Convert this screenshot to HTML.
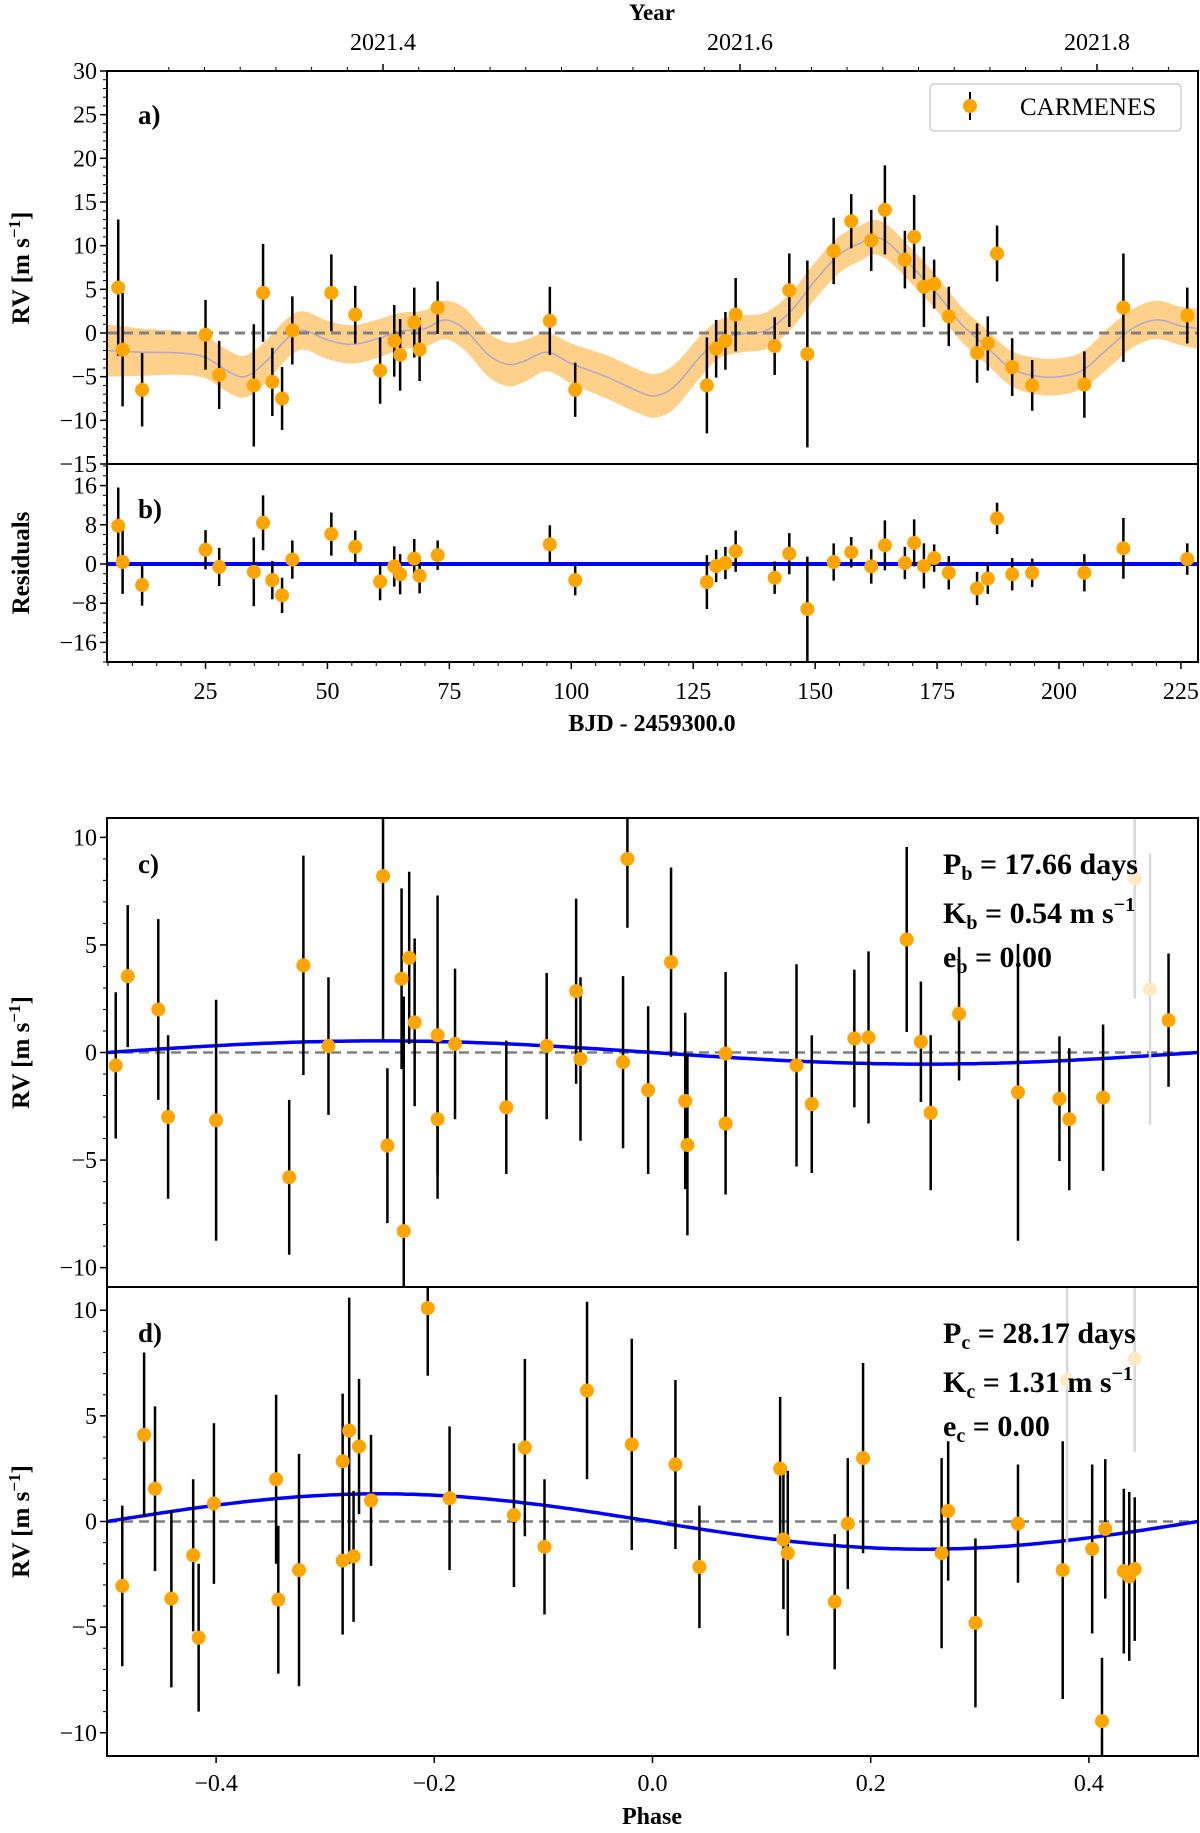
<!DOCTYPE html>
<html><head><meta charset="utf-8"><style>
html,body{margin:0;padding:0;background:#fff;}
svg text{font-family:"Liberation Serif",serif;}
</style></head><body>
<svg id="fig" width="1200" height="1828" viewBox="0 0 1200 1828" xmlns="http://www.w3.org/2000/svg"></svg>
<script>
// ---- Panel a/b data (days since 2459300, RV, error, residual) ----
const rvDays = [7.1,8,12,25,27.8,34.9,36.8,38.7,40.7,42.8,50.8,55.7,60.8,63.7,64.9,67.8,68.9,72.6,95.6,100.8,127.8,129.7,131.6,133.7,141.7,144.7,148.4,153.8,157.4,161.5,164.3,168.4,170.3,172.3,174.4,177.4,183.2,185.4,187.3,190.4,194.5,205.2,213.2,226.3];
const rvValues = [5.2,-1.9,-6.5,-0.2,-4.8,-6,4.6,-5.6,-7.5,0.3,4.6,2.1,-4.3,-0.9,-2.5,1.2,-1.9,2.9,1.4,-6.5,-6,-1.8,-0.9,2.1,-1.5,4.9,-2.4,9.4,12.8,10.6,14.1,8.4,11,5.3,5.6,1.9,-2.3,-1.2,9.1,-3.9,-6,-5.9,2.9,2];
const rvErrors = [7.8,6.5,4.2,4,3.9,7,5.6,3.9,3.6,3.9,4.4,3.3,3.8,4.1,4.1,4,3.6,3,3.9,3.1,5.5,3.3,3.3,4.2,3.3,4.2,10.7,3.8,3.1,3.5,5.1,3.3,4.8,4.6,2.8,3.4,3.4,3.1,3.2,3.3,2.9,3.8,6.2,3.2];
const residValues = [7.8,0.4,-4.3,2.9,-0.6,-1.6,8.4,-3.3,-6.4,0.9,6.1,3.5,-3.6,-0.5,-2.1,1.1,-2.4,1.8,4,-3.3,-3.7,-0.4,0.2,2.6,-2.8,2.1,-9.2,0.4,2.4,-0.5,3.8,0.2,4.3,-0.4,1.2,-1.8,-5,-3,9.3,-2.1,-1.8,-1.8,3.2,1];
// GP model knots
const gpDays = [4.8,12,20,25,30,33,37,42,45,50,55,60,65,70,74,78,83,87,90,95,100,108,113,117,121,126,130,135,140,145,150,155,160,162,165,170,175,180,185,190,195,200,205,210,215,220,225,228.5];
const gpMean = [-2.0,-2.2,-2.3,-2.8,-4.5,-5.0,-3.5,-0.5,0.3,-0.8,-1.3,-0.7,0.2,0.5,1.5,0.5,-2.5,-3.6,-3.3,-2.2,-3.5,-5.2,-6.5,-7.2,-6.2,-3.0,-0.8,-0.1,0.3,2.5,6.0,9.0,10.5,11.0,10.3,7.5,4.5,1.0,-1.5,-4.0,-4.9,-5.0,-4.2,-1.8,0.5,1.5,0.8,0.5];
const gpHalf = [3.0,2.7,2.5,2.4,2.4,2.4,2.4,2.3,2.2,2.2,2.2,2.2,2.1,2.1,2.2,2.4,2.5,2.5,2.4,2.2,2.3,2.5,2.5,2.5,2.5,2.4,2.2,2.1,2.1,2.1,2.1,2.1,2.0,2.0,2.0,2.0,2.0,2.0,2.0,2.0,2.1,2.1,2.1,2.3,2.2,2.2,2.2,2.3];
const yearTicks = [2021.4,2021.6,2021.8];
const yearTickLabels = ["2021.4","2021.6","2021.8"];
const dayTicks = [25,50,75,100,125,150,175,200,225];
const rvTicksA = [-15,-10,-5,0,5,10,15,20,25,30];
const residTicks = [-16,-8,0,8,16];
// ---- Panel c (planet b) ----
const phaseB = [-0.492,-0.481,-0.453,-0.444,-0.400,-0.333,-0.320,-0.297,-0.247,-0.243,-0.230,-0.228,-0.223,-0.218,-0.197,-0.197,-0.181,-0.134,-0.097,-0.070,-0.066,-0.027,-0.023,-0.004,0.017,0.030,0.032,0.067,0.067,0.132,0.146,0.185,0.198,0.233,0.246,0.255,0.281,0.335,0.373,0.382,0.413,0.442,0.456,0.473];
const rvB = [-0.6,3.55,2.0,-3.0,-3.15,-5.8,4.05,0.3,8.2,-4.33,3.43,-8.3,4.4,1.4,0.8,-3.1,0.4,-2.55,0.3,2.85,-0.3,-0.45,9.0,-1.75,4.2,-2.25,-4.3,-0.05,-3.3,-0.6,-2.4,0.65,0.7,5.25,0.5,-2.8,1.8,-1.85,-2.15,-3.1,-2.1,8.1,2.95,1.5];
const errB = [3.4,3.3,4.2,3.8,5.6,3.6,5.1,3.2,7.6,3.6,4.2,10.9,4.0,3.9,6.5,3.7,3.5,3.1,3.4,4.3,3.8,4.0,3.2,3.9,4.4,4.1,4.2,3.8,3.3,4.7,3.2,3.2,4.0,4.3,2.8,3.6,3.1,6.9,2.9,3.3,3.4,5.6,6.3,3.1];
const paleB = [0,0,0,0,0,0,0,0,0,0,0,0,0,0,0,0,0,0,0,0,0,0,0,0,0,0,0,0,0,0,0,0,0,0,0,0,0,0,0,0,0,1,1,0];
const Kb = 0.54;
// ---- Panel d (planet c) ----
const phaseC = [-0.486,-0.466,-0.456,-0.441,-0.421,-0.416,-0.402,-0.345,-0.343,-0.324,-0.284,-0.284,-0.278,-0.274,-0.269,-0.258,-0.206,-0.186,-0.127,-0.117,-0.099,-0.060,-0.019,0.021,0.043,0.117,0.120,0.124,0.167,0.179,0.193,0.265,0.271,0.296,0.335,0.376,0.380,0.403,0.412,0.415,0.432,0.437,0.442,0.442];
const rvC = [-3.05,4.1,1.55,-3.65,-1.6,-5.5,0.85,2.0,-3.7,-2.3,2.85,-1.85,4.3,-1.65,3.55,1.0,10.1,1.1,0.3,3.5,-1.2,6.2,3.65,2.7,-2.15,2.5,-0.85,-1.5,-3.8,-0.1,3.0,-1.5,0.5,-4.8,-0.1,-2.3,6.7,-1.3,-9.45,-0.35,-2.35,-2.6,-2.25,7.7];
const errC = [3.8,3.9,3.9,4.2,3.6,3.5,3.8,4.0,3.5,5.5,3.2,3.5,6.3,3.1,3.2,3.1,3.2,3.4,3.4,4.2,3.2,4.2,5.0,4.0,2.9,3.4,3.3,3.9,3.2,3.1,4.5,4.5,3.3,4.0,2.8,6.1,7.8,4.0,3.0,3.3,3.9,4.0,3.4,4.4];
const paleC = [0,0,0,0,0,0,0,0,0,0,0,0,0,0,0,0,0,0,0,0,0,0,0,0,0,0,0,0,0,0,0,0,0,0,0,0,1,0,0,0,0,0,0,1];
const Kc = 1.31;
const phaseTicks = [-0.4,-0.2,0.0,0.2,0.4];
const phaseTickLabels = ["\u22120.4","\u22120.2","0.0","0.2","0.4"];
const rvTicksCD = [-10,-5,0,5,10];

const NS = "http://www.w3.org/2000/svg";
const svg = document.getElementById('fig');
function el(tag, attrs, parent, text){
  const e = document.createElementNS(NS, tag);
  for (const k in attrs) e.setAttribute(k, attrs[k]);
  if (text !== undefined) e.textContent = text;
  (parent || svg).appendChild(e);
  return e;
}
function lin(d0,d1,r0,r1){ return v => r0 + (v-d0)*(r1-r0)/(d1-d0); }
function fmt(v){ return (v<0?"\u2212":"") + Math.abs(v); }
// Catmull-Rom interpolation through knots
function smooth(xs, ys, x){
  let i = 0; while (i < xs.length-2 && x > xs[i+1]) i++;
  const x0 = xs[Math.max(i-1,0)], x1 = xs[i], x2 = xs[i+1], x3 = xs[Math.min(i+2,xs.length-1)];
  const y0 = ys[Math.max(i-1,0)], y1 = ys[i], y2 = ys[i+1], y3 = ys[Math.min(i+2,ys.length-1)];
  const h = x2 - x1, t = (x - x1)/h;
  const m1 = (y2 - y0)/(x2 - x0) * h, m2 = (y3 - y1)/(x3 - x1) * h;
  const t2 = t*t, t3 = t2*t;
  return (2*t3-3*t2+1)*y1 + (t3-2*t2+t)*m1 + (-2*t3+3*t2)*y2 + (t3-t2)*m2;
}

const L = 107, R = 1198;
const xDay = lin(4.8, 228.5, L, R);
const xYear = lin(2021.4, 2021.6, 383, 740);
const yA = lin(-15, 30, 464, 71);
const yB = lin(-20, 20.4, 662, 464);
const xPh = lin(-0.5, 0.5, L, R);
const yC = lin(-10.9, 10.9, 1287, 818);
const yD = lin(-11.1, 11.1, 1756, 1287);
const TF = 24;

function clip(id, y0, y1){
  const cp = el('clipPath', {id:id});
  el('rect', {x:L, y:y0, width:R-L, height:y1-y0}, cp);
}
clip('ca', 71, 464); clip('cb', 464, 662); clip('cc', 818, 1287); clip('cd', 1287, 1756);

function yAxis(g, ticks, y, labels, minorStep, lo, hi){
  ticks.forEach((t,i)=>{
    const tk = el('line', {x1:L-7, x2:L, y1:y(t), y2:y(t), stroke:'#000', 'stroke-width':1.5}, g);
    
    
    const tl = el('text', {x:L-10, y:y(t)+8, 'text-anchor':'end', 'font-size':TF}, g, labels ? labels[i] : fmt(t));
    
    
  });
  if (minorStep){
    for (let v = lo; v <= hi+1e-9; v += minorStep){
      el('line', {x1:L-4, x2:L, y1:y(v), y2:y(v), stroke:'#000', 'stroke-width':1}, g);
    }
  }
}
function dots(g, xs, ys, errs, xf, yf, pale){
  xs.forEach((xv,i)=>{
    const p = pale && pale[i];
    const b = el('line', {x1:xf(xv), x2:xf(xv), y1:yf(ys[i]-errs[i]), y2:yf(ys[i]+errs[i]), stroke: p ? '#d8d8d8' : '#000', 'stroke-width':2.5}, g);
    
    
  });
  xs.forEach((xv,i)=>{
    const p = pale && pale[i];
    const c = el('circle', {cx:xf(xv), cy:yf(ys[i]), r:7, fill: p ? '#fde9c4' : '#ffa500'}, g);
    
    
  });
}

// ===== Panel a =====
const gA = el('g', { });
const gAc = el('g', {'clip-path':'url(#ca)'}, gA);
let up = '', dn = '', mid = '';
const N = 400, d0 = gpDays[0], d1 = gpDays[gpDays.length-1];
const samp = [];
for (let i = 0; i <= N; i++){ const d = d0 + (d1-d0)*i/N; samp.push([d, smooth(gpDays,gpMean,d), smooth(gpDays,gpHalf,d)]); }
samp.forEach((s,i)=>{
  up += (i?'L':'M') + xDay(s[0]).toFixed(1) + ',' + yA(s[1]+s[2]).toFixed(1);
  mid += (i?'L':'M') + xDay(s[0]).toFixed(1) + ',' + yA(s[1]).toFixed(1);
});
for (let i = samp.length-1; i >= 0; i--) dn += 'L' + xDay(samp[i][0]).toFixed(1) + ',' + yA(samp[i][1]-samp[i][2]).toFixed(1);
el('path', {d: up + dn + 'Z', fill:'#ffd08a', stroke:'none',  }, gAc);
el('path', {d: mid, fill:'none', stroke:'#b0a8c8', 'stroke-width':1.5,  }, gAc);
el('line', {x1:L, x2:R, y1:yA(0), y2:yA(0), stroke:'#808080', 'stroke-width':3, 'stroke-dasharray':'10,6',  }, gAc);
dots(gAc, rvDays, rvValues, rvErrors, xDay, yA);
el('rect', {x:L, y:71, width:R-L, height:393, fill:'none', stroke:'#000', 'stroke-width':2,  }, gA);
yAxis(gA, rvTicksA, yA, null, 1, -15, 30);
yearTicks.forEach((t,i)=>{
  el('line', {x1:xYear(t), x2:xYear(t), y1:64, y2:71, stroke:'#000', 'stroke-width':1.5}, gA);
  const tl = el('text', {x:xYear(t), y:50, 'text-anchor':'middle', 'font-size':TF}, gA, yearTickLabels[i]);
  
  
});
for (let v = 2021.28; v <= 2021.86; v += 0.02){
  const x = xYear(v); if (x > L && x < R) el('line', {x1:x, x2:x, y1:67, y2:71, stroke:'#000', 'stroke-width':1}, gA);
}
el('text', {x:652, y:20, 'text-anchor':'middle', 'font-size':23, 'font-weight':'bold',  }, gA, 'Year');
el('text', {x:138, y:124, 'font-size':27, 'font-weight':'bold',  }, gA, 'a)');
const lg = el('g', { }, gA);
el('rect', {x:930, y:84, width:251, height:47, rx:4, fill:'#fff', stroke:'#d0d0d0', 'stroke-width':1.5}, lg);
el('line', {x1:970, x2:970, y1:92, y2:120, stroke:'#000', 'stroke-width':2}, lg);
el('circle', {cx:970, cy:106, r:7, fill:'#ffa500'}, lg);
el('text', {x:1020, y:115, 'font-size':25,  }, lg, 'CARMENES');
el('text', {x:0, y:0, transform:'translate(29,268) rotate(-90)', 'text-anchor':'middle', 'font-size':25, 'font-weight':'bold',  }, gA).innerHTML = 'RV [m s<tspan dy="-9" font-size="17">\u22121</tspan><tspan dy="9">]</tspan>';

// ===== Panel b =====
const gB = el('g', { });
const gBc = el('g', {'clip-path':'url(#cb)'}, gB);
el('line', {x1:L, x2:R, y1:yB(0), y2:yB(0), stroke:'#0000ff', 'stroke-width':4,  }, gBc);
dots(gBc, rvDays, residValues, rvErrors, xDay, yB);
el('rect', {x:L, y:464, width:R-L, height:198, fill:'none', stroke:'#000', 'stroke-width':2,  }, gB);
yAxis(gB, residTicks, yB, null, 2, -20, 20);
dayTicks.forEach(t=>{
  el('line', {x1:xDay(t), x2:xDay(t), y1:662, y2:669, stroke:'#000', 'stroke-width':1.5}, gB);
  const tl = el('text', {x:xDay(t), y:699, 'text-anchor':'middle', 'font-size':TF}, gB, String(t));
  
  
});
for (let v = 5; v <= 228; v += 5) el('line', {x1:xDay(v), x2:xDay(v), y1:662, y2:666, stroke:'#000', 'stroke-width':1}, gB);
el('text', {x:652, y:731, 'text-anchor':'middle', 'font-size':24, 'font-weight':'bold',  }, gB, 'BJD - 2459300.0');
el('text', {x:138, y:518, 'font-size':27, 'font-weight':'bold',  }, gB, 'b)');
el('text', {x:0, y:0, transform:'translate(29,563) rotate(-90)', 'text-anchor':'middle', 'font-size':25, 'font-weight':'bold',  }, gB, 'Residuals');

// ===== Phase panels =====
function phasePanel(name, clipId, yf, y0, y1, ph, rv, er, pale, K, label, sub, P){
  const g = el('g', { });
  const gc = el('g', {'clip-path':'url(#'+clipId+')'}, g);
  el('line', {x1:L, x2:R, y1:yf(0), y2:yf(0), stroke:'#808080', 'stroke-width':2.5, 'stroke-dasharray':'10,6'}, gc);
  let d = '';
  for (let i = 0; i <= 200; i++){ const p = -0.5 + i/200; d += (i?'L':'M') + xPh(p).toFixed(1) + ',' + yf(-K*Math.sin(2*Math.PI*p)).toFixed(1); }
  const c = el('path', {d:d, fill:'none', stroke:'#0000ff', 'stroke-width':3.5}, gc);
  
  
  dots(gc, ph, rv, er, xPh, yf, pale);
  el('rect', {x:L, y:y0, width:R-L, height:y1-y0, fill:'none', stroke:'#000', 'stroke-width':2}, g);
  yAxis(g, rvTicksCD, yf, null, 1, -10, 10);
  el('text', {x:0, y:0, transform:'translate(29,'+yf(0)+') rotate(-90)', 'text-anchor':'middle', 'font-size':25, 'font-weight':'bold',  }, g).innerHTML = 'RV [m s<tspan dy="-9" font-size="17">\u22121</tspan><tspan dy="9">]</tspan>';
  el('text', {x:138, y:y0+55, 'font-size':27, 'font-weight':'bold',  }, g, label);
  const a = el('g', { }, g);
  el('text', {x:943, y:y0+56, 'font-size':30, 'font-weight':'bold'}, a).innerHTML = 'P<tspan dy="6" font-size="20">'+sub+'</tspan><tspan dy="-6"> = '+P+' days</tspan>';
  el('text', {x:943, y:y0+105, 'font-size':30, 'font-weight':'bold'}, a).innerHTML = 'K<tspan dy="6" font-size="20">'+sub+'</tspan><tspan dy="-6"> = '+K.toFixed(2)+' m s</tspan><tspan dy="-12" font-size="20">\u22121</tspan>';
  el('text', {x:943, y:y0+149, 'font-size':30, 'font-weight':'bold'}, a).innerHTML = 'e<tspan dy="6" font-size="20">'+sub+'</tspan><tspan dy="-6"> = 0.00</tspan>';
  return g;
}
phasePanel('panel-c', 'cc', yC, 818, 1287, phaseB, rvB, errB, paleB, Kb, 'c)', 'b', '17.66');
const gD = phasePanel('panel-d', 'cd', yD, 1287, 1756, phaseC, rvC, errC, paleC, Kc, 'd)', 'c', '28.17');
phaseTicks.forEach((t,i)=>{
  el('line', {x1:xPh(t), x2:xPh(t), y1:1756, y2:1763, stroke:'#000', 'stroke-width':1.5}, gD);
  const tl = el('text', {x:xPh(t), y:1791, 'text-anchor':'middle', 'font-size':TF}, gD, phaseTickLabels[i]);
  
  
});
el('text', {x:652, y:1824, 'text-anchor':'middle', 'font-size':24, 'font-weight':'bold',  }, gD, 'Phase');
</script>
</body></html>
